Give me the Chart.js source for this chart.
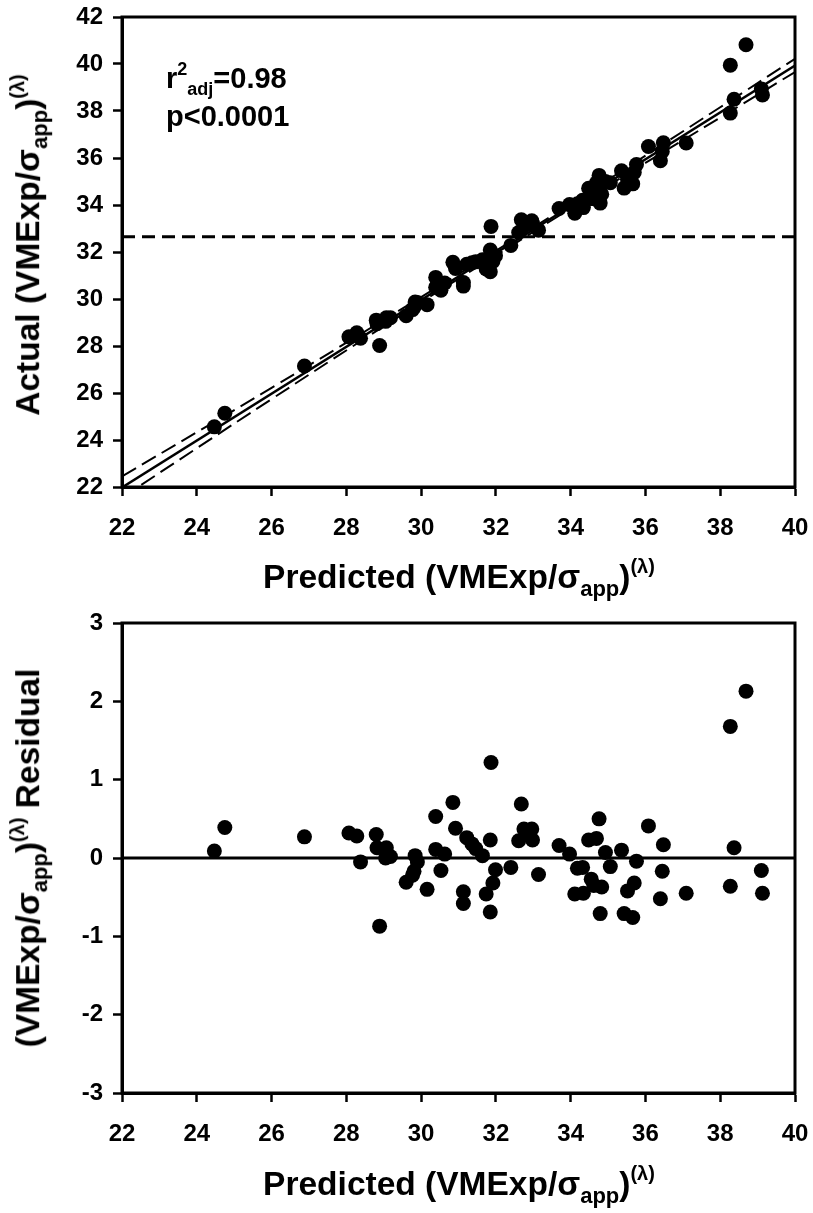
<!DOCTYPE html>
<html>
<head>
<meta charset="utf-8">
<script src="https://cdn.jsdelivr.net/npm/chart.js@4/dist/chart.umd.min.js"></script>
<style>
  html, body { margin: 0; padding: 0; background: #fff; }
  #page { position: relative; width: 813px; height: 1213px; overflow: hidden; }
  canvas { position: absolute; left: 0; }
  .lbl {
    position: absolute; white-space: nowrap; color: #000;
    font-family: "Liberation Sans", Arial, sans-serif;
    font-weight: bold; line-height: 1;
  }
  .title { font-size: 33.5px; }
  .title sub { font-size: 22px; vertical-align: -0.35em; }
  .title sup { font-size: 20px; vertical-align: 0.75em; }
  .rot { transform: translate(-50%, -50%) rotate(-90deg); }
  .hcen { transform: translate(-50%, -50%); }
  .note { font-size: 29px; }
  .note sup { font-size: 18px; vertical-align: 0.7em; }
  .note sub { font-size: 18px; vertical-align: -0.4em; }
</style>
</head>
<body>
<div id="page">
  <canvas id="fitChart" style="top:0px" width="813" height="600"></canvas>
  <canvas id="residChart" style="top:600px" width="813" height="613"></canvas>

  <div class="lbl title rot" style="left:29px; top:245px;">Actual (VMExp/&sigma;<sub>app</sub>)<sup>(&lambda;)</sup></div>
  <div class="lbl title hcen" style="left:459px; top:578px;">Predicted (VMExp/&sigma;<sub>app</sub>)<sup>(&lambda;)</sup></div>
  <div class="lbl note" style="left:166px; top:60px;">r<sup>2</sup><sub>adj</sub>=0.98</div>
  <div class="lbl note" style="left:166px; top:102px;">p&lt;0.0001</div>

  <div class="lbl title rot" style="left:29px; top:858px;">(VMExp/&sigma;<sub>app</sub>)<sup>(&lambda;)</sup> Residual</div>
  <div class="lbl title hcen" style="left:459px; top:1185px;">Predicted (VMExp/&sigma;<sub>app</sub>)<sup>(&lambda;)</sup></div>
</div>
<script>
// values
const predicted = [24.47, 24.75, 26.88, 28.07, 28.28, 28.38, 28.80, 28.82, 28.89, 29.07,
  29.05, 29.18, 29.60, 29.77, 29.81, 29.84, 29.90, 30.16, 30.39, 30.39,
  30.53, 30.63, 30.85, 30.92, 31.13, 31.13, 31.22, 31.36, 31.46, 31.64,
  31.74, 31.85, 31.87, 31.85, 31.92, 31.99, 32.40, 32.61, 32.68, 32.75,
  32.89, 32.96, 32.98, 33.14, 33.69, 33.97, 34.11, 34.18, 34.32, 34.34,
  34.48, 34.55, 34.62, 34.69, 34.76, 34.83, 34.79, 34.93, 35.06, 35.36,
  35.43, 35.52, 35.66, 35.70, 35.76, 36.08, 36.40, 36.45, 36.48, 37.09,
  38.27, 38.27, 38.37, 38.69, 39.10, 39.13];
const actual = [24.56, 25.14, 27.15, 28.39, 28.56, 28.33, 29.10, 28.95, 28.02, 29.20,
  29.05, 29.20, 29.29, 29.55, 29.64, 29.87, 29.85, 29.76, 30.92, 30.50,
  30.37, 30.68, 31.56, 31.30, 30.70, 30.55, 31.48, 31.54, 31.58, 31.67,
  31.28, 32.08, 33.09, 31.16, 31.60, 31.84, 32.28, 32.83, 33.37, 33.12,
  33.19, 33.33, 33.21, 32.93, 33.85, 34.02, 33.65, 34.05, 34.20, 33.89,
  34.71, 34.28, 34.27, 34.94, 35.26, 34.46, 34.08, 35.00, 34.95, 35.46,
  34.72, 35.10, 34.90, 35.38, 35.72, 36.49, 35.88, 36.28, 36.65, 36.64,
  37.91, 39.95, 38.50, 40.82, 38.94, 38.68];
const residual = [0.09, 0.39, 0.27, 0.32, 0.28, -0.05, 0.30, 0.13, -0.87, 0.13,
  0.00, 0.02, -0.31, -0.22, -0.17, 0.03, -0.05, -0.40, 0.53, 0.11,
  -0.16, 0.05, 0.71, 0.38, -0.43, -0.58, 0.26, 0.18, 0.12, 0.03,
  -0.46, 0.23, 1.22, -0.69, -0.32, -0.15, -0.12, 0.22, 0.69, 0.37,
  0.30, 0.37, 0.23, -0.21, 0.16, 0.05, -0.46, -0.13, -0.12, -0.45,
  0.23, -0.27, -0.35, 0.25, 0.50, -0.37, -0.71, 0.07, -0.11, 0.10,
  -0.71, -0.42, -0.76, -0.32, -0.04, 0.41, -0.52, -0.17, 0.17, -0.45,
  -0.36, 1.68, 0.13, 2.13, -0.16, -0.45];

// regression line and its confidence band
const fitX = [22, 40];
const fitY = [21.98, 39.93];
const bandX = [22, 26, 30, 32, 34, 38, 40];
const bandUpper = [22.45, 26.22, 30.08, 32.05, 34.05, 38.16, 40.22];
const bandLower = [21.55, 25.74, 29.86, 31.85, 33.85, 37.72, 39.66];
const refLevel = 32.65;

const xTicks = [22, 24, 26, 28, 30, 32, 34, 36, 38, 40];
const yTicksTop = [22, 24, 26, 28, 30, 32, 34, 36, 38, 40, 42];
const yTicksResid = [-3, -2, -1, 0, 1, 2, 3];

const FONT = "'Liberation Sans', Arial, sans-serif";

const toPts = (xs, ys) => xs.map((x, i) => ({ x: x, y: ys[i] }));

// frame round the plot area (top and right edges too)
const framePlugin = {
    id: "frame",
    afterDatasetsDraw: (chart) => {
        const { ctx, chartArea: a } = chart;
        ctx.save();
        ctx.strokeStyle = "#000";
        ctx.lineWidth = 3;
        ctx.strokeRect(a.left, a.top, a.right - a.left, a.bottom - a.top);
        ctx.restore();
    }
};

// fixed axis box so the plot area lands where the figure has it
const fitX_axis = (h) => (s) => { s.height = h; s.paddingLeft = 0; s.paddingRight = 0; };
const fitY_axis = (w) => (s) => { s.width = w; s.paddingTop = 0; s.paddingBottom = 0; };

function axis(min, max, ticks, pad, fit) {
    return {
        type: "linear",
        min: min,
        max: max,
        afterBuildTicks: (s) => { s.ticks = ticks.map(v => ({ value: v })); },
        afterFit: fit,
        grid: {
            drawOnChartArea: false,
            drawTicks: true,
            tickLength: 9,
            tickWidth: 2.5,
            tickColor: "#000"
        },
        border: { display: true, color: "#000", width: 3 },
        ticks: {
            color: "#000",
            padding: pad,
            font: { family: FONT, size: 24, weight: "bold" }
        }
    };
}

function baseOptions(xHeight, yAxis, padTop) {
    return {
        responsive: false,
        animation: false,
        events: [],
        layout: { padding: { top: padTop, right: 18, left: 0, bottom: 0 } },
        plugins: { legend: { display: false }, tooltip: { enabled: false } },
        scales: {
            x: axis(22, 40, xTicks, 18, fitX_axis(xHeight)),
            y: yAxis
        }
    };
}

// top: actual vs predicted
new Chart(document.getElementById("fitChart").getContext("2d"), {
    type: "scatter",
    data: {
        datasets: [
            {
                data: toPts(predicted, actual),
                pointRadius: 7.5,
                pointBackgroundColor: "#000",
                pointBorderColor: "#000",
                pointBorderWidth: 0,
                order: 1
            },
            {
                type: "line",
                data: toPts(fitX, fitY),
                borderColor: "#000",
                borderWidth: 2.5,
                pointRadius: 0,
                order: 2
            },
            {
                type: "line",
                data: toPts(bandX, bandUpper),
                borderColor: "#000",
                borderWidth: 2,
                borderDash: [16, 7],
                tension: 0.4,
                pointRadius: 0,
                order: 3
            },
            {
                type: "line",
                data: toPts(bandX, bandLower),
                borderColor: "#000",
                borderWidth: 2,
                borderDash: [16, 7],
                tension: 0.4,
                pointRadius: 0,
                order: 3
            },
            {
                type: "line",
                data: toPts([22, 40], [refLevel, refLevel]),
                borderColor: "#000",
                borderWidth: 3,
                borderDash: [13, 7],
                pointRadius: 0,
                order: 4
            }
        ]
    },
    options: baseOptions(113, axis(22, 42, yTicksTop, 10, fitY_axis(122)), 17),
    plugins: [framePlugin]
});

// bottom: residuals
new Chart(document.getElementById("residChart").getContext("2d"), {
    type: "scatter",
    data: {
        datasets: [
            {
                data: toPts(predicted, residual),
                pointRadius: 7.5,
                pointBackgroundColor: "#000",
                pointBorderColor: "#000",
                pointBorderWidth: 0,
                order: 1
            },
            {
                type: "line",
                data: toPts([22, 40], [0, 0]),
                borderColor: "#000",
                borderWidth: 3,
                pointRadius: 0,
                order: 2
            }
        ]
    },
    options: baseOptions(120, axis(-3, 3, yTicksResid, 10, fitY_axis(122)), 23),
    plugins: [framePlugin]
});
</script>
</body>
</html>
